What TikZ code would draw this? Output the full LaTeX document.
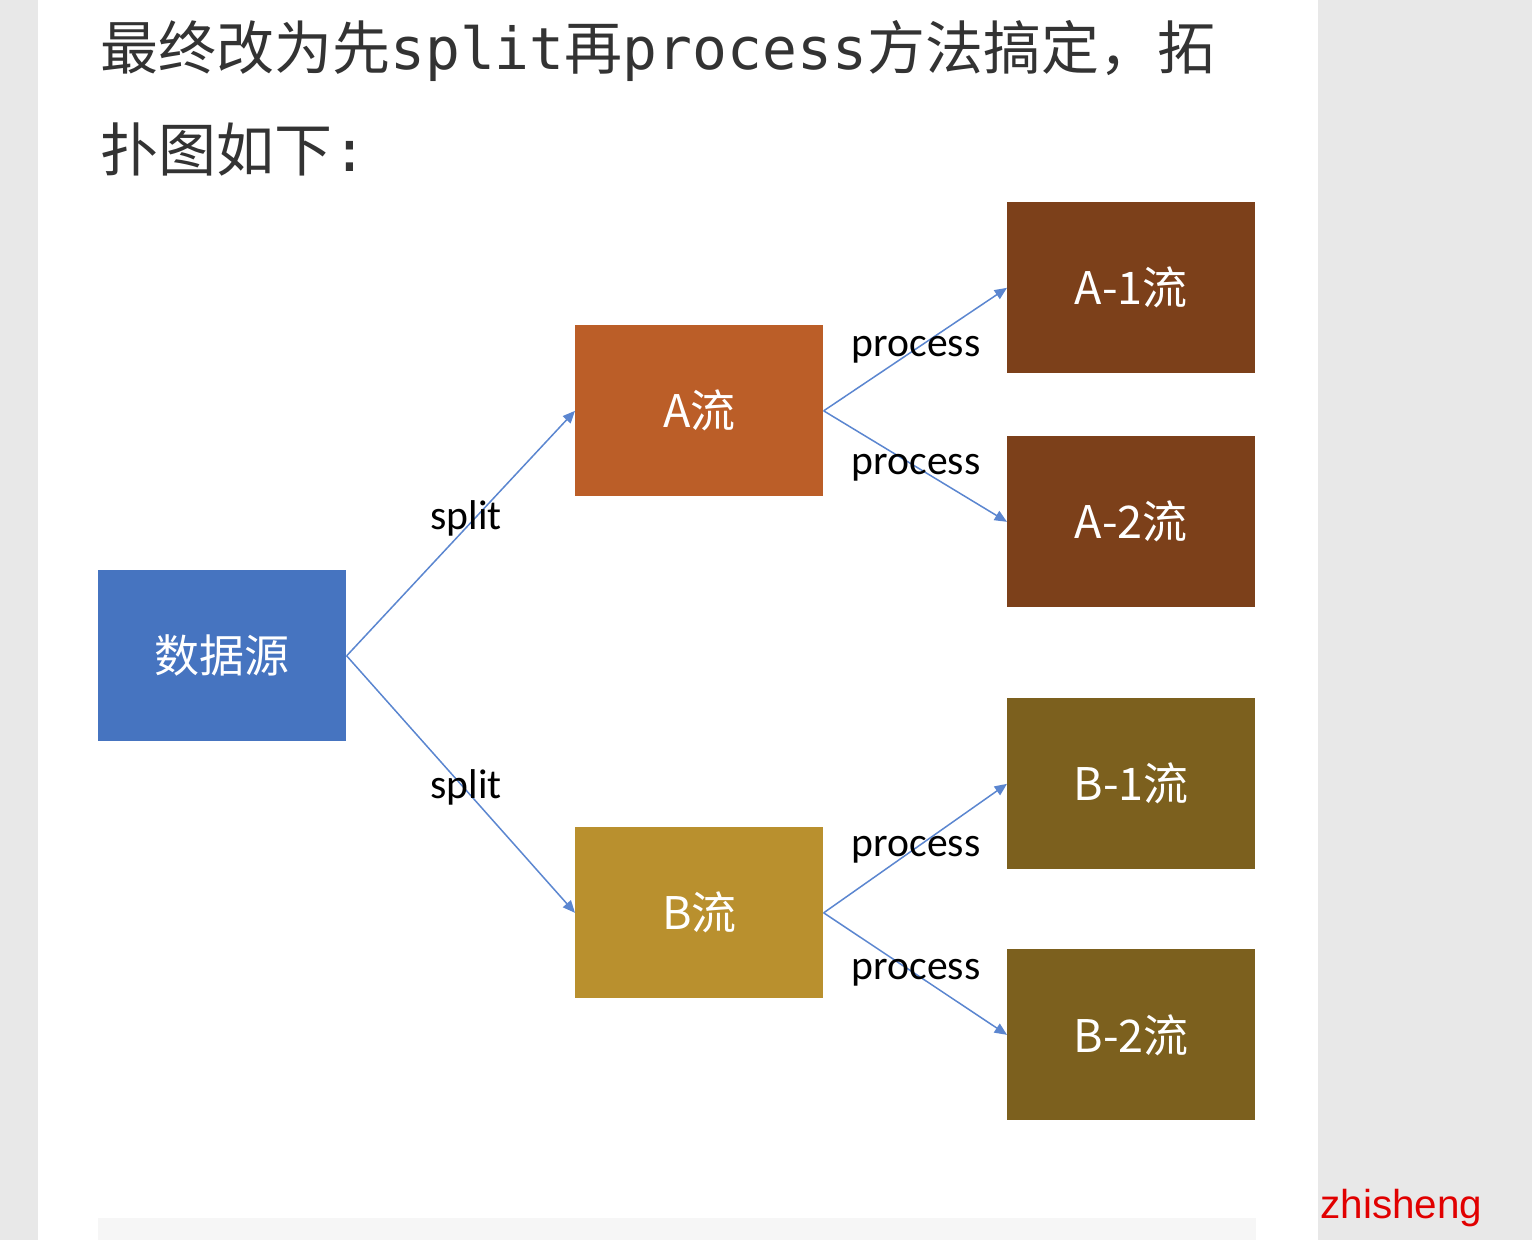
\documentclass[tikz,border=0pt]{standalone}
\usepackage{fontspec}
\setmainfont{Carlito}
\newfontfamily\cjk{Noto Sans CJK SC}
\newfontfamily\mono{DejaVu Sans Mono}
\newfontfamily\arialfont{Liberation Sans}
\usepackage{xcolor}
\usetikzlibrary{arrows.meta}
\definecolor{fundo}{RGB}{232,232,232}
\definecolor{barra}{RGB}{246,246,246}
\definecolor{texto}{RGB}{51,51,51}
\definecolor{linha}{RGB}{91,134,208}
\definecolor{azul}{RGB}{70,116,192}
\definecolor{laranja}{RGB}{187,94,40}
\definecolor{ouro}{RGB}{185,144,46}
\definecolor{marrom}{RGB}{124,64,26}
\definecolor{oliva}{RGB}{124,96,30}
\tikzset{
  bloco/.style={fill=#1, anchor=north west, inner sep=0pt, minimum width=4.96cm, minimum height=3.42cm, text=white, font=\cjk\fontsize{25.6}{28}\selectfont},
  seta/.style={-{Triangle[length=7pt,width=6pt]}, draw=linha, line width=0.85pt},
  rotulo/.style={font=\fontsize{23.7}{26}\selectfont, text=black, inner sep=0pt},
  titulo/.style={anchor=base west, inner sep=0pt, text=texto, font=\cjk\fontsize{33}{36}\selectfont},
}

\begin{document}
\begin{tikzpicture}[x=0.02cm, y=-0.02cm]
  \useasboundingbox (0,0) rectangle (1532,1240);
  \fill[fundo] (0,0) rectangle (1532,1240);
  \fill[white] (38,0) rectangle (1318,1240);
  \fill[barra] (98,1218) rectangle (1256,1240);

  % texto do topo
  \node[titulo] (l1) at (100,70) {最终改为先{\mono split}再{\mono process}方法搞定，拓};
  \node[titulo] (l2) at (100,172) {扑图如下{\mono :}};

  % caixas
  \node[bloco=azul] (src) at (98,570) {数据源};
  \node[bloco=laranja] (a) at (575,325) {A流};
  \node[bloco=ouro] (b) at (575,827) {B流};
  \node[bloco=marrom] (a1) at (1007,202) {A-1流};
  \node[bloco=marrom] (a2) at (1007,436) {A-2流};
  \node[bloco=oliva] (b1) at (1007,698) {B-1流};
  \node[bloco=oliva] (b2) at (1007,949) {B-2流};

  % setas
  \draw[seta] (src.east) -- (a.west);
  \draw[seta] (src.east) -- (b.west);
  \draw[seta] (a.east) -- (a1.west);
  \draw[seta] (a.east) -- (a2.west);
  \draw[seta] (b.east) -- (b1.west);
  \draw[seta] (b.east) -- (b2.west);

  \node[rotulo] (s1) at (466,518) {split};
  \node[rotulo] (s2) at (466,787) {split};
  \node[rotulo] (p1) at (916,350) {process};
  \node[rotulo] (p2) at (916,468) {process};
  \node[rotulo] (p3) at (916,850) {process};
  \node[rotulo] (p4) at (916,973) {process};

  \node[anchor=base west, inner sep=0pt, text={rgb,255:red,225;green,0;blue,0}, font=\arialfont\fontsize{23}{26}\selectfont] (marca) at (1320,1218) {zhisheng};
\end{tikzpicture}
\end{document}
